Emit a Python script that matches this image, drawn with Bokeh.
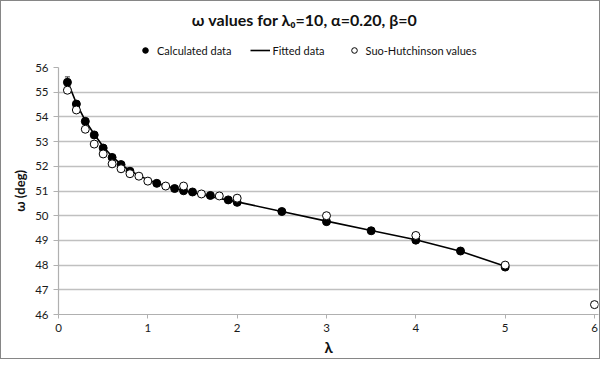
from bokeh.plotting import figure
from bokeh.layouts import column
from bokeh.models import (ColumnDataSource, Legend, LegendItem, Range1d, Label,
                          FixedTicker, Whisker, TeeHead)
from bokeh.embed import file_html
from bokeh.resources import INLINE

# ---- data ----
calc_x = [0.1, 0.2, 0.3, 0.4, 0.5, 0.6, 0.7, 0.8, 1.1, 1.3, 1.4, 1.5, 1.7, 1.9, 2.0,
          2.5, 3.0, 3.5, 4.0, 4.5, 5.0]
calc_y = [55.40, 54.52, 53.82, 53.27, 52.74, 52.36, 52.07, 51.80, 51.31, 51.10, 51.01,
          50.96, 50.82, 50.64, 50.54, 50.17, 49.76, 49.39, 49.01, 48.57, 47.92]

fit_x = [0.1, 0.2, 0.3, 0.4, 0.5, 0.6, 0.7, 0.8, 1.0, 1.2, 1.4, 1.6, 1.8, 2.0,
         2.5, 3.0, 3.5, 4.0, 4.5, 5.0]
fit_y = [55.45, 54.55, 53.85, 53.30, 52.80, 52.40, 52.08, 51.82, 51.45, 51.20, 51.02,
         50.86, 50.70, 50.56, 50.17, 49.78, 49.40, 49.03, 48.56, 47.95]

sh_x = [0.1, 0.2, 0.3, 0.4, 0.5, 0.6, 0.7, 0.8, 0.9, 1.0, 1.2, 1.4, 1.6, 1.8, 2.0,
        3.0, 4.0, 5.0, 6.0]
sh_y = [55.08, 54.28, 53.50, 52.90, 52.50, 52.10, 51.90, 51.70, 51.60, 51.40, 51.20,
        51.20, 50.88, 50.80, 50.71, 50.00, 49.20, 48.00, 46.40]

err_x = [0.1]
err_lo = [55.22]
err_hi = [55.62]

x_ticks = [0, 1, 2, 3, 4, 5, 6]
y_ticks = [46, 47, 48, 49, 50, 51, 52, 53, 54, 55, 56]

title_text = "\u03c9 values for \u03bb\u2080=10, \u03b1=0.20, \u03b2=0"
legend_labels = ["Calculated data", "Fitted data", "Suo-Hutchinson values"]
FONT = "Lato"

HEAD_H = 58
FW, FH = 540, 247
LEFT = 57
PX_PER_UNIT = 536 / 6.0

# ---- header: title + legend (frame aligned with main plot frame) ----
head = figure(frame_width=FW, frame_height=HEAD_H, output_backend="svg",
              toolbar_location=None, x_axis_type=None, y_axis_type=None,
              x_range=Range1d(0, FW), y_range=Range1d(0, HEAD_H),
              min_border_left=LEFT, min_border_right=1,
              min_border_top=0, min_border_bottom=0, title=None)
head.outline_line_color = None
head.grid.visible = False
head.add_layout(Label(x=246, y=HEAD_H - 18, text=title_text,
                      text_align="center", text_baseline="middle",
                      text_font=FONT, text_font_size="16px",
                      text_font_style="bold", text_color="#111111"))

# legend proxies (hidden renderers carrying the same data and styles)
lc = head.scatter(calc_x, calc_y, marker="circle", size=7, fill_color="black",
                  line_color="black", visible=False)
ll = head.line(fit_x, fit_y, line_color="black", line_width=1.6, visible=False)
lo = head.scatter(sh_x, sh_y, marker="circle", size=7, fill_color="white",
                  line_color="black", line_width=1, visible=False)
legend = Legend(items=[LegendItem(label=legend_labels[0], renderers=[lc]),
                       LegendItem(label=legend_labels[1], renderers=[ll]),
                       LegendItem(label=legend_labels[2], renderers=[lo])],
                orientation="horizontal", location=(77, 2),
                label_text_font=FONT, label_text_font_size="11px",
                label_text_color="#111111", label_height=14,
                glyph_width=20, glyph_height=14, label_standoff=2, spacing=19,
                padding=4, margin=0, border_line_color=None,
                background_fill_alpha=0, click_policy="none")
head.add_layout(legend, "center")

# ---- main plot ----
p = figure(frame_width=FW, frame_height=FH, output_backend="svg",
           toolbar_location=None, title=None,
           x_range=Range1d(0, FW / PX_PER_UNIT), y_range=Range1d(46, 56),
           min_border_left=LEFT, min_border_right=1, min_border_top=8,
           min_border_bottom=41)
p.outline_line_color = None
p.background_fill_color = "white"
p.border_fill_color = "white"

p.xgrid.grid_line_color = None
p.ygrid.grid_line_color = "#C0C0C0"
p.ygrid.grid_line_width = 1.3
p.ygrid.ticker = FixedTicker(ticks=y_ticks)

for ax in (p.xaxis[0], p.yaxis[0]):
    ax.axis_line_color = "#B0B0B0"
    ax.axis_line_width = 1.2
    ax.major_tick_line_color = "#B0B0B0"
    ax.major_tick_in = 0
    ax.minor_tick_line_color = None
    ax.major_label_text_font = FONT
    ax.major_label_text_font_size = "11.5px"
    ax.major_label_text_color = "#1a1a1a"
    ax.axis_label_text_font = FONT
    ax.axis_label_text_font_style = "bold"
    ax.axis_label_text_color = "#111111"

p.xaxis.ticker = FixedTicker(ticks=x_ticks)
p.yaxis.ticker = FixedTicker(ticks=y_ticks)
p.xaxis.major_tick_out = 4
p.yaxis.major_tick_out = 5
p.xaxis.major_label_standoff = 5
p.yaxis.major_label_standoff = 5
p.xaxis.axis_label = "\u03bb"
p.xaxis.axis_label_text_font_size = "15px"
p.xaxis.axis_label_standoff = 3
p.yaxis.axis_label = "\u03c9 (deg)"
p.yaxis.axis_label_text_font_size = "13px"
p.yaxis.axis_label_standoff = 4

p.line(fit_x, fit_y, line_color="black", line_width=1.6)
err = Whisker(base="x", upper="hi", lower="lo",
              source=ColumnDataSource(dict(x=err_x, lo=err_lo, hi=err_hi)),
              line_color="#333333", line_width=1,
              upper_head=TeeHead(size=5, line_color="#333333"),
              lower_head=TeeHead(size=5, line_color="#333333"))
p.add_layout(err)
p.scatter(calc_x, calc_y, marker="circle", size=8, fill_color="black", line_color="black")
p.scatter(sh_x, sh_y, marker="circle", size=8, fill_color="white",
          line_color="black", line_width=1)

layout = column(head, p, spacing=0)
layout.styles = {"border": "1px solid #868686"}

open("out.html", "w").write(file_html(layout, INLINE))
